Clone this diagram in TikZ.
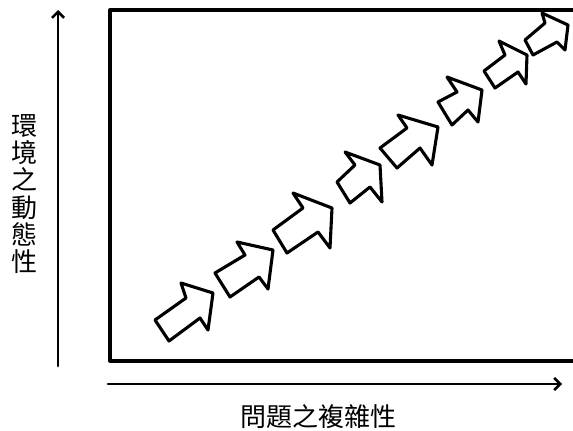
\documentclass[tikz,border=0pt]{standalone}
\usepackage{fontspec}
\newfontfamily\cjk{Noto Sans CJK TC}
\usetikzlibrary{arrows.meta}
\tikzset{
  frame/.style={line width=3.3pt, line cap=round, line join=round},
  axis/.style={line width=2.8pt, line cap=round, -{Straight Barb[length=6pt,width=12pt,line width=2.6pt]}},
  blockarrow/.style={line width=3.1pt, line join=round, fill=white},
  lbl/.style={font=\cjk\fontsize{26}{27.3}\selectfont, inner sep=0pt, align=center}
}
\begin{document}
\begin{tikzpicture}[x=1pt,y=-1pt]
\useasboundingbox (0,0) rectangle (573,431);
% coordinates
\coordinate (ya0) at (58,366);
\coordinate (ya1) at (58,10);
\coordinate (xa0) at (108,384);
\coordinate (xa1) at (562,384);
\coordinate (btr) at (576,10);
\coordinate (btl) at (110,10);
\coordinate (bbl) at (110,361);
\coordinate (bbr) at (576,361);
% frame
\draw[frame] (btr) -- (btl) -- (bbl) -- (bbr);
% axes
\draw[axis] (ya0) -- (ya1);
\draw[axis] (xa0) -- (xa1);
% labels
\node[lbl] (ylabel) at (25,194) {環\\境\\之\\動\\態\\性};
\node[lbl] (xlabel) at (318,417) {問題之複雜性};
% block arrows
\draw[blockarrow] (155,320) -- (186,298) -- (181,283) -- (213,293) -- (208,330) -- (200,318) -- (169,341) -- cycle;
\draw[blockarrow] (215,273) -- (245,255) -- (237,242) -- (273,250) -- (268,289) -- (259,277) -- (230,297) -- cycle;
\draw[blockarrow] (273,230) -- (303,208) -- (293,193) -- (332,208) -- (330,248) -- (318,232) -- (287,253) -- cycle;
\draw[blockarrow] (337,182) -- (355,165) -- (345,152) -- (380,165) -- (382,202) -- (370,187) -- (350,203) -- cycle;
\draw[blockarrow] (380,148) -- (407,128) -- (398,115) -- (438,127) -- (432,165) -- (420,148) -- (397,168) -- cycle;
\draw[blockarrow] (438,102) -- (457,92) -- (447,77) -- (482,90) -- (478,122) -- (468,110) -- (452,125) -- cycle;
\draw[blockarrow] (484,71) -- (505,55) -- (499,41) -- (527,55) -- (526,84) -- (518,72) -- (495,88) -- cycle;
\draw[blockarrow] (525,40) -- (545,23) -- (542,13) -- (568,25) -- (565,50) -- (557,42) -- (533,55) -- cycle;
\end{tikzpicture}
\end{document}
